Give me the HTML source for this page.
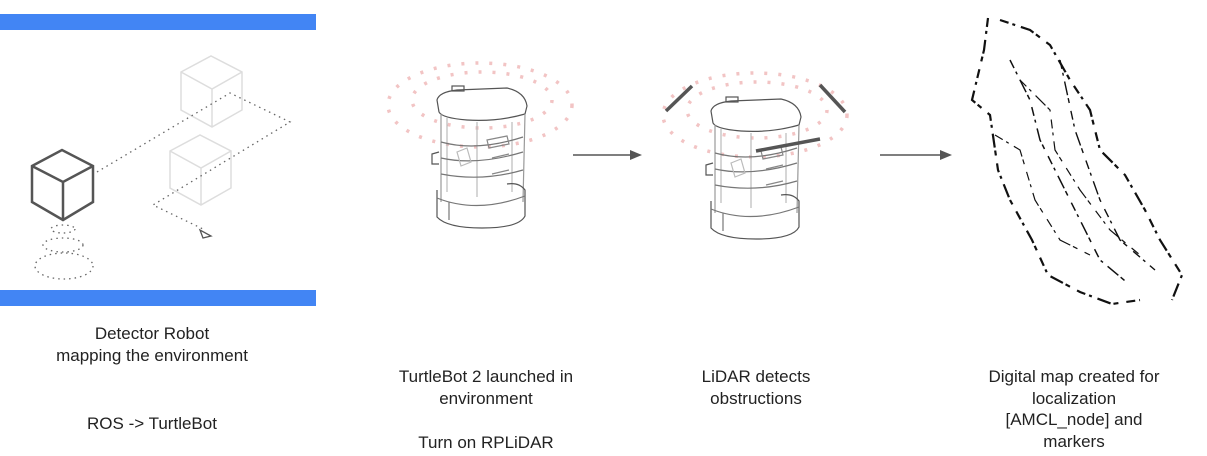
<!DOCTYPE html>
<html><head><meta charset="utf-8"><style>
body{margin:0;background:#fff;width:1207px;height:456px;overflow:hidden;position:relative;font-family:"Liberation Sans",sans-serif;color:#222}
.t{position:absolute;font-size:17px;text-align:center;line-height:21.5px;white-space:nowrap}
</style></head><body>
<svg width="1207" height="456" style="position:absolute;left:0;top:0">
<defs>
<g id="robot" fill="none" stroke="#555" stroke-width="1.2">
<path d="M0,8 Q2,0 20,-2 L70,-4 Q88,0 90,14 L88,22 Q60,30 30,28 Q5,26 2,20 Z" fill="#fff"/>
<rect x="15" y="-6" width="12" height="5"/>
<path d="M4,22 L4,110 M88,22 L86,110" stroke="#999"/>
<path d="M10,26 L10,100 M40,30 L40,105 M75,30 L75,100" stroke="#bbb"/>
<path d="M4,50 Q40,60 86,45 M4,66 Q40,74 86,60 M4,82 Q45,90 86,78" stroke="#777"/>
<path d="M2,60 L-5,62 L-5,72 L2,72"/>
<path d="M50,48 L70,44 L72,52 L52,56 Z M55,66 L72,62 M55,82 L72,78" stroke="#888"/>
<path d="M20,60 L30,56 L34,70 L24,74 Z" stroke="#bbb"/>
<path d="M0,98 L0,125 Q10,136 45,136 Q82,136 88,124 L88,98 Q82,90 70,92" />
<path d="M0,106 Q40,122 88,104 M12,110 L12,128" stroke="#777"/>
</g>
</defs>
<rect x="0" y="14" width="316" height="16" fill="#4285f4"/>
<rect x="0" y="290" width="316" height="16" fill="#4285f4"/>
<g fill="none" stroke="#ddd" stroke-width="1.5">
<path d="M181,72 L211,56 L242,72 L242,110 L212,127 L181,110 Z M181,72 L212,89 L242,72 M212,89 L212,127"/>
<path d="M170,151 L200,135 L231,151 L231,188 L201,205 L170,188 Z M170,151 L201,168 L231,151 M201,168 L201,205"/>
</g>
<g fill="none" stroke="#555" stroke-width="2.5">
<path d="M32,166 L62,150 L93,166 L93,202 L63,220 L32,202 Z M32,166 L63,182 L93,166 M63,182 L63,220"/>
</g>
<g fill="none" stroke="#666" stroke-width="1.3" stroke-dasharray="1.5 4">
<path d="M97,172 L230,93 L290,122 L153,205 L205,230"/>
<ellipse cx="63" cy="229" rx="12" ry="4"/>
<ellipse cx="63" cy="245" rx="20" ry="7"/>
<ellipse cx="64" cy="266" rx="29" ry="13"/>
</g>
<path d="M200,230 L203,238 L211,236 Z" fill="#fff" stroke="#555" stroke-width="1.3"/>
<g fill="none" stroke="#f2c4c4" stroke-width="3.5" stroke-dasharray="3 11">
<ellipse cx="480" cy="105" rx="92" ry="42"/>
<ellipse cx="482" cy="100" rx="70" ry="28"/>
<ellipse cx="755" cy="115" rx="92" ry="42"/>
<ellipse cx="757" cy="110" rx="70" ry="28"/>
</g>
<use href="#robot" x="437" y="92"/>
<use href="#robot" x="711" y="103"/>
<g stroke="#555" stroke-width="3.5">
<line x1="666" y1="111" x2="692" y2="86"/>
<line x1="820" y1="85" x2="845" y2="112"/>
<line x1="756" y1="151" x2="820" y2="139"/>
</g>
<g stroke="#555" stroke-width="1.5"><line x1="573" y1="155" x2="630" y2="155"/><line x1="880" y1="155" x2="940" y2="155"/></g>
<path d="M630,150 L642,155 L630,160 Z M940,150 L952,155 L940,160 Z" fill="#555"/>
<g fill="none" stroke="#111" stroke-width="2.2" stroke-dasharray="9 4 3 6 14 3 5 8">
<path d="M988,18 L984,50 L972,100 L990,115 L998,170 L1010,200 L1032,240 L1048,275 L1080,292 L1112,304 L1140,300"/>
<path d="M1000,20 L1030,30 L1050,45 L1070,80 L1090,110 L1100,150 L1125,175 L1145,210 L1160,240 L1182,275 L1172,300"/>
<path d="M1010,60 L1030,100 L1040,140 L1060,180 L1080,220 L1100,260 L1130,285" stroke-width="1.5"/>
<path d="M1020,80 L1050,110 L1055,150 L1080,190 L1110,230 L1140,255" stroke-width="1.2"/>
<path d="M995,135 L1020,150 L1035,200 L1060,240 L1090,255" stroke-width="1.2"/>
<path d="M1060,60 L1075,130 L1100,200 L1120,240 L1155,270" stroke-width="1.4"/>
</g>
</svg>
<div class="t" style="left:2px;width:300px;top:323px">Detector Robot<br>mapping the environment</div>
<div class="t" style="left:2px;width:300px;top:413px">ROS -&gt; TurtleBot</div>
<div class="t" style="left:336px;width:300px;top:366px">TurtleBot 2 launched in<br>environment</div>
<div class="t" style="left:336px;width:300px;top:432px">Turn on RPLiDAR</div>
<div class="t" style="left:606px;width:300px;top:366px">LiDAR detects<br>obstructions</div>
<div class="t" style="left:924px;width:300px;top:366px">Digital map created for<br>localization<br>[AMCL_node] and<br>markers</div>
</body></html>
